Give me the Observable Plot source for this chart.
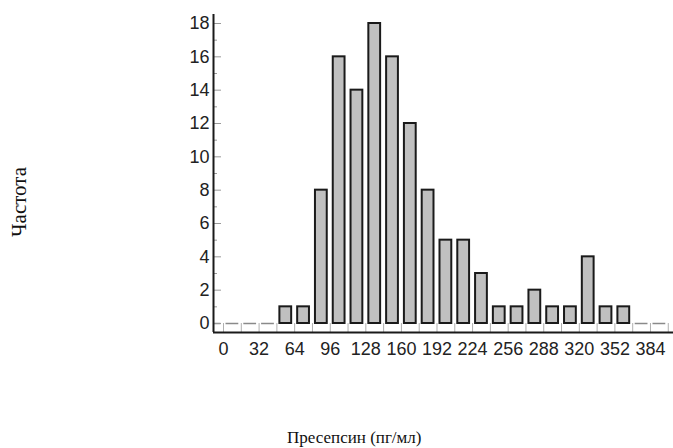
<!DOCTYPE html>
<html>
<head>
<meta charset="utf-8">
<script src="https://cdn.jsdelivr.net/npm/d3@7"></script>
<script src="https://cdn.jsdelivr.net/npm/@observablehq/plot@0.6"></script>
<style>
  html, body { margin: 0; padding: 0; background: #fff; }
  #wrap { position: relative; width: 673px; height: 448px; overflow: hidden; }
  .lab { position: absolute; font-family: "Liberation Serif", "Times New Roman", serif; color: #111; white-space: nowrap; }
  #ylab { left: 19px; top: 202px; font-size: 21px; transform: translate(-50%, -50%) rotate(-90deg); }
  #xlab { left: 287px; top: 428px; font-size: 17px; }
</style>
</head>
<body>
<div id="wrap">
  <div id="chart"></div>
  <div class="lab" id="ylab">Частота</div>
  <div class="lab" id="xlab">Пресепсин (пг/мл)</div>
</div>
<script>
// Histogram data (bin starts, bin width 16 pg/ml) and counts
const binWidth = 16;
const binStarts = [-16, 0, 16, 32, 48, 64, 80, 96, 112, 128, 144, 160, 176, 192, 208, 224, 240, 256, 272, 288, 304, 320, 336, 352, 368, 384];
const counts    = [  0, 0,  0,  0,  1,  1,  8, 16,  14,  18,  16,  12,   8,   5,   5,   3,   1,   1,   2,   1,   1,   4,   1,   1,   0,   0];
const xTickLabels = [0, 32, 64, 96, 128, 160, 192, 224, 256, 288, 320, 352, 384];
const yMajorTicks = [0, 2, 4, 6, 8, 10, 12, 14, 16, 18];
const yMinorTicks = [1, 3, 5, 7, 9, 11, 13, 15, 17];

const bins = binStarts.map((s, i) => ({start: s, end: s + binWidth, count: counts[i]}));
const edges = binStarts.concat([binStarts[binStarts.length - 1] + binWidth]);

const xDomain = [-9, 404.7];
const yDomain = [-0.54, 18.54];

const chart = Plot.plot({
  width: 673,
  height: 448,
  marginLeft: 213,
  marginRight: 0,
  marginTop: 14,
  marginBottom: 116,
  style: {fontFamily: "'Liberation Sans', Arial, sans-serif", fontSize: "18px", color: "#222", background: "#fff"},
  x: {domain: xDomain},
  y: {domain: yDomain},
  marks: [
    // small cells under the baseline at the bin edges
    Plot.ruleX(edges, {x: d => d, y1: 0, y2: yDomain[0], stroke: "#b0b0b0", strokeWidth: 1, clip: true}),
    // empty bins drawn as short dashes
    Plot.ruleY(bins.filter(d => d.count === 0), {x1: "start", x2: "end", y: "count", stroke: "#8a8a8a", strokeWidth: 1.5, insetLeft: 2.5, insetRight: 2.5, clip: true}),
    // bars
    Plot.rectY(bins.filter(d => d.count > 0), {x1: "start", x2: "end", y1: 0, y2: "count", fill: "#c0c0c0", stroke: "#1a1a1a", strokeWidth: 2, insetLeft: 3, insetRight: 3}),
    // axes
    Plot.axisY({ticks: yMinorTicks, tickSize: -4, tickFormat: () => "", stroke: "#999", label: null}),
    Plot.axisY({ticks: yMajorTicks, tickSize: -8, tickPadding: 12, stroke: "#999", fill: "#222", fontSize: 18, label: null}),
    Plot.axisX({ticks: xTickLabels, tickSize: 0, tickPadding: 10, fill: "#222", fontSize: 18, label: null}),
    Plot.ruleX([xDomain[0]], {y1: yDomain[0], y2: yDomain[1], stroke: "#1a1a1a", strokeWidth: 2}),
    Plot.ruleY([yDomain[0]], {stroke: "#1a1a1a", strokeWidth: 2})
  ]
});
document.getElementById("chart").appendChild(chart);
</script>
</body>
</html>
